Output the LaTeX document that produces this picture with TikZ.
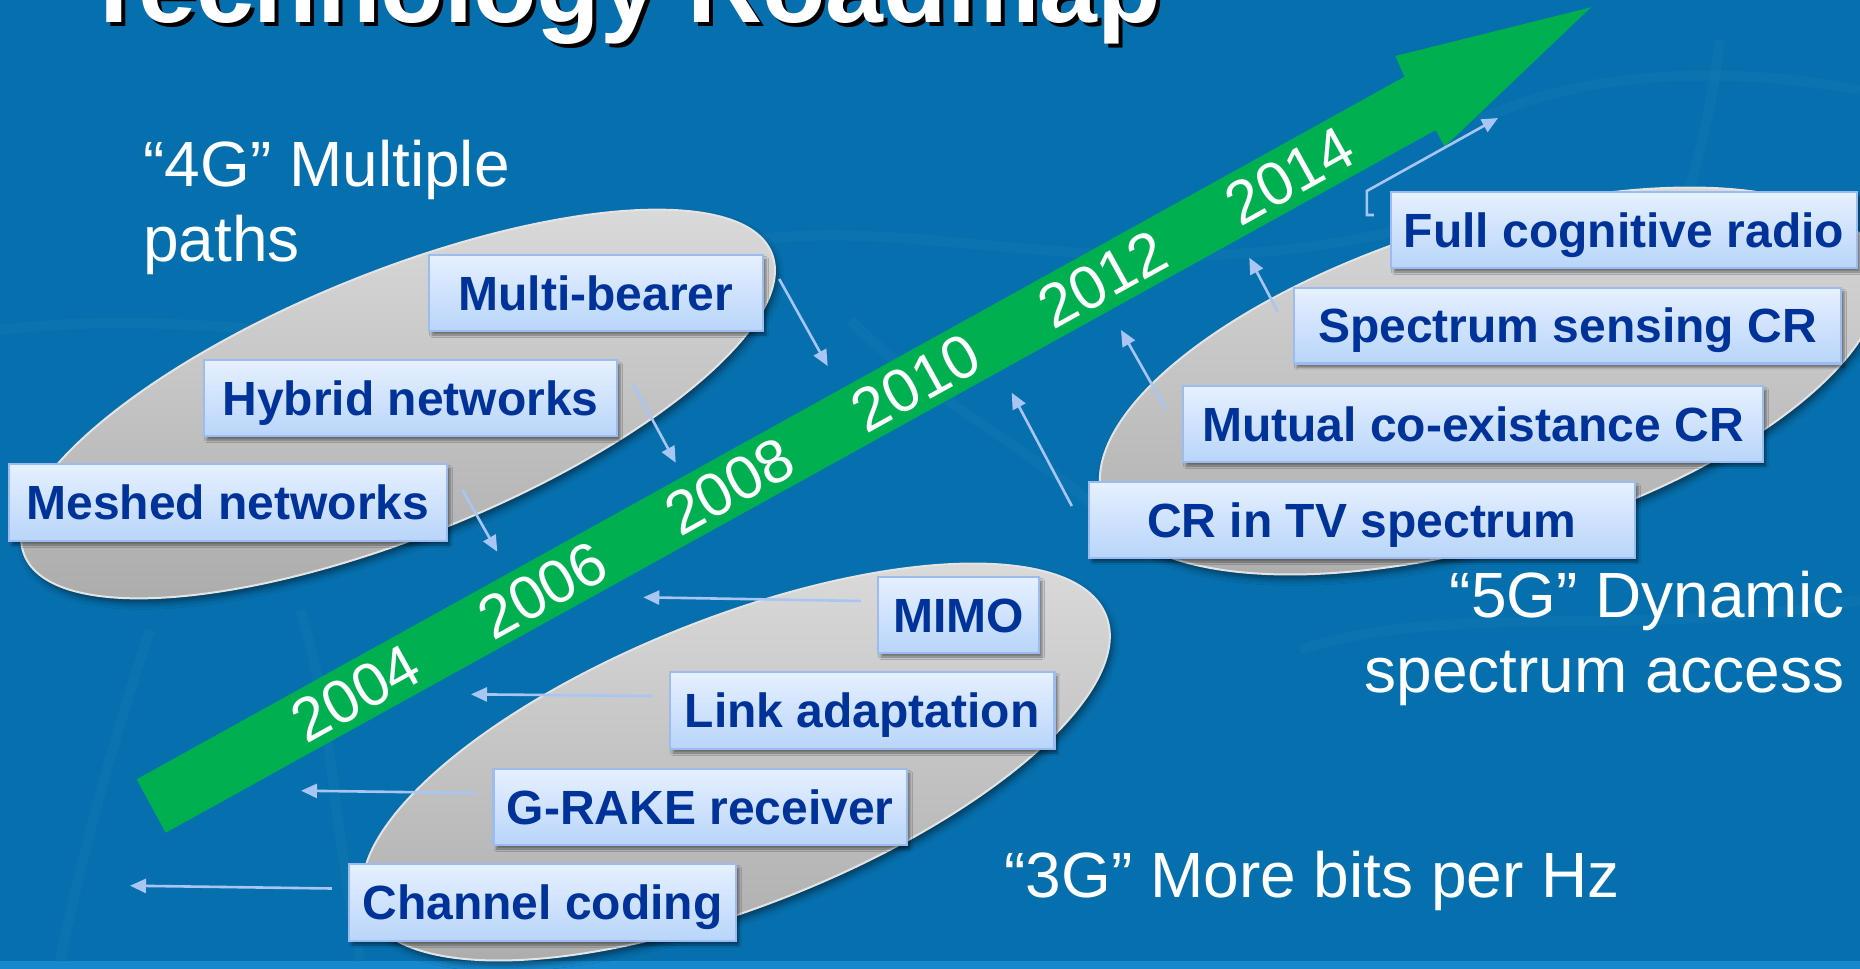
\documentclass[tikz,border=0pt]{standalone}
\usepackage{fontspec}
\setmainfont{Liberation Sans}
\usetikzlibrary{arrows.meta,shapes.geometric,shadows.blur,calc}

\definecolor{bgblue}{HTML}{0670AF}
\definecolor{bgstrip}{HTML}{1689CE}
\definecolor{arrowgreen}{HTML}{00B050}
\definecolor{boxtop}{HTML}{E6F0FF}
\definecolor{boxbot}{HTML}{B8D5FA}
\definecolor{boxrim}{HTML}{9CBCF0}
\definecolor{boxtext}{HTML}{003399}
\definecolor{connblue}{HTML}{A9C5F4}
\definecolor{ovaltop}{HTML}{DCDCDC}
\definecolor{ovalbot}{HTML}{ABABAB}
\definecolor{ovalrim}{HTML}{E4E4E4}

\begin{document}
\begin{tikzpicture}[x=0.5pt,y=-0.5pt,
  techbox/.style={rectangle, inner sep=0pt, top color=boxtop, bottom color=boxbot,
    draw=boxrim, line width=1.2pt, text=boxtext,
    font=\fontsize{24}{28}\selectfont\bfseries, text height=17.2pt, text depth=0pt,
    minimum height=38pt,
    blur shadow={shadow xshift=1.5pt, shadow yshift=-2pt, shadow blur radius=1.2pt, shadow opacity=45}},
  oval/.style={ellipse, inner sep=0pt, top color=ovaltop, bottom color=ovalbot,
    draw=ovalrim, line width=1pt,
    blur shadow={shadow xshift=1.5pt, shadow yshift=-2.5pt, shadow blur radius=3pt, shadow opacity=45}},
  year/.style={text=white, font=\fontsize{30.5}{36}\selectfont, rotate=29, inner sep=0pt},
  caption/.style={text=white, font=\fontsize{32}{37.5}\selectfont, inner sep=0pt},
  conn/.style={draw=connblue, line width=1.3pt, -{Triangle[length=8pt,width=7pt]}},
  titlefont/.style={font=\fontsize{52}{60}\selectfont\bfseries, inner sep=0pt, anchor=base west}
]
\useasboundingbox (0,0) rectangle (1860,969);
\clip (0,0) rectangle (1860,969);

% background with a faint network texture
\fill[bgblue] (0,0) rectangle (1860,969);
\fill[bgstrip] (0,961) rectangle (1860,969);
\begin{scope}[white, opacity=0.025, line width=5pt]
  \draw (0,330) .. controls (250,300) and (450,380) .. (700,330);
  \draw (700,250) .. controls (900,200) and (1100,300) .. (1400,230);
  \draw (850,320) .. controls (950,420) and (1050,450) .. (1150,560);
  \draw (300,610) .. controls (330,700) and (330,800) .. (360,960);
  \draw (150,630) .. controls (120,720) and (90,820) .. (60,960);
  \draw (1300,650) .. controls (1450,600) and (1650,640) .. (1860,600);
  \draw (1480,120) .. controls (1560,80) and (1700,60) .. (1860,90);
  \draw (1720,40) .. controls (1700,200) and (1650,300) .. (1600,420);
\end{scope}

% title
\node[titlefont, text=black] (titleshadow) at (86,26) {Technology Roadmap};
\node[titlefont, text=white] (title) at (82,23) {Technology Roadmap};

% generation ovals
\node[oval, minimum width=403pt, minimum height=132pt, rotate=22] (oval4g) at (398,404) {};
\node[oval, minimum width=398pt, minimum height=144pt, rotate=21.6] (oval3g) at (736,762) {};
\node[oval, minimum width=405pt, minimum height=160pt, rotate=17] (oval5g) at (1490,381) {};

% time arrow
\fill[arrowgreen] (136.7,779.3) -- (1404.6,76.7) -- (1395.4,56) -- (1591,7.3)
  -- (1444.6,146.7) -- (1435.7,130) -- (165.7,832.7) -- cycle;

\node[year] (y2004) at (355.9,693.6) {2004};
\node[year] (y2006) at (542.6,590.1) {2006};
\node[year] (y2008) at (729.3,486.6) {2008};
\node[year] (y2010) at (916.0,383.0) {2010};
\node[year] (y2012) at (1102.8,279.5) {2012};
\node[year] (y2014) at (1289.5,176.0) {2014};

% generation captions
\node[caption, anchor=base west] (cap4a) at (143,186) {“4G” Multiple};
\node[caption, anchor=base west] (cap4b) at (143,261) {paths};
\node[caption, anchor=base east] (cap5a) at (1845,617) {“5G” Dynamic};
\node[caption, anchor=base east] (cap5b) at (1845,692) {spectrum access};
\node[caption, anchor=base west] (cap3) at (1004,897) {“3G” More bits per Hz};

% technology boxes
\node[techbox, minimum width=167pt] (mb) at (596,293) {Multi-bearer};
\node[techbox, minimum width=206.5pt] (hn) at (410.5,398.2) {Hybrid networks};
\node[techbox, minimum width=219pt, minimum height=38.5pt] (mn) at (228,502.5) {Meshed networks};

\node[techbox, minimum width=80.5pt] (mimo) at (958.5,615) {MIMO};
\node[techbox, minimum width=192.25pt, minimum height=38.5pt] (la) at (862.3,710.5) {Link adaptation};
\node[techbox, minimum width=206.75pt] (gr) at (700.2,807) {G-RAKE receiver};
\node[techbox, minimum width=193.5pt, minimum height=38.5pt] (cc) at (542.5,902.5) {Channel coding};

\node[techbox, minimum width=273pt] (tv) at (1362,520) {CR in TV spectrum};
\node[techbox, minimum width=290pt] (mc) at (1473,424) {Mutual co-existance CR};
\node[techbox, minimum width=273.5pt, minimum height=37.75pt] (ss) at (1567.5,325.7) {Spectrum sensing CR};
\node[techbox, minimum width=233pt] (fc) at (1624,230) {Full cognitive radio};

% connector targets on the time line
\coordinate (mb-t) at (827.7,366);
\coordinate (hn-t) at (675.7,462.7);
\coordinate (mn-t) at (497.3,551.7);
\coordinate (mimo-t) at (643.3,597.3);
\coordinate (la-t) at (471,694.3);
\coordinate (gr-t) at (301,790.7);
\coordinate (cc-t) at (130,885.7);
\coordinate (tv-t) at (1011.7,392.7);
\coordinate (mc-t) at (1121,330);
\coordinate (ss-t) at (1249.3,257.7);
\coordinate (fc-t) at (1498,118);

% connectors
\draw[conn] ($(mb.east)+(15,-14)$) -- (mb-t);
\draw[conn] ($(hn.east)+(15,-14)$) -- (hn-t);
\draw[conn] ($(mn.east)+(14,-13)$) -- (mn-t);
\draw[conn] ($(mimo.west)+(-16,-14)$) -- (mimo-t);
\draw[conn] ($(la.west)+(-16,-14.5)$) -- (la-t);
\draw[conn] ($(gr.west)+(-16,-14)$) -- (gr-t);
\draw[conn] ($(cc.west)+(-16,-14)$) -- (cc-t);
\draw[conn] ($(tv.west)+(-16,-14)$) -- (tv-t);
\draw[conn] ($(mc.west)+(-16,-15)$) -- (mc-t);
\draw[conn] ($(ss.west)+(-15,-14)$) -- (ss-t);
\draw[conn] ($(fc.west)+(-16,-15)$) -- ++(-7,0) -- ++(0,-24) -- (fc-t);
\end{tikzpicture}
\end{document}
